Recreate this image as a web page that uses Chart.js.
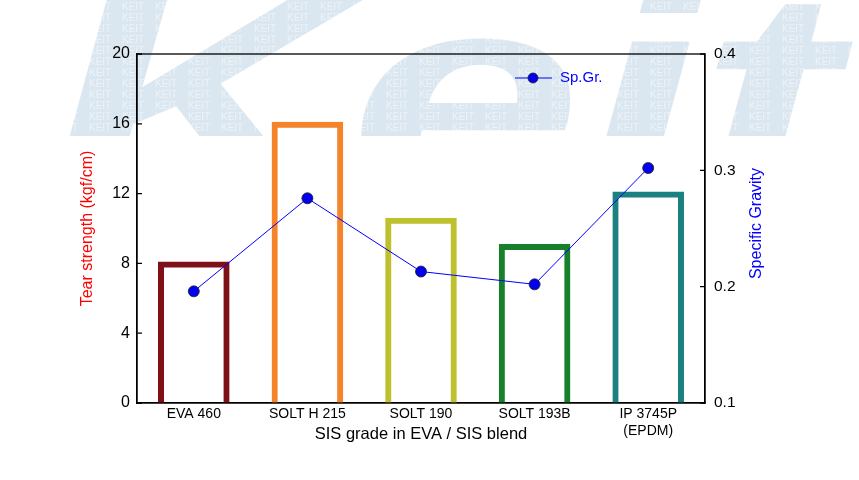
<!DOCTYPE html>
<html>
<head>
<meta charset="utf-8">
<script src="https://cdn.jsdelivr.net/npm/chart.js@4/dist/chart.umd.min.js"></script>
<style>
  body { margin: 0; background: #fff; }
  #graph { display: block; }
</style>
</head>
<body>
<canvas id="graph" width="859" height="480"></canvas>
<script>
// data
const categories = ['EVA 460', 'SOLT H 215', 'SOLT 190', 'SOLT 193B', ['IP 3745P', '(EPDM)']]
const tearStrength = [8, 16, 10.5, 9, 12]
const specificGravity = [0.196, 0.276, 0.213, 0.202, 0.302]
const barColors = ['#7f1018', '#f5832a', '#bfc02e', '#17802a', '#1a8080']

const FONT = 'Liberation Sans, Arial, sans-serif'

// pale "KEIT" watermark behind everything
const watermark = {
    id: 'watermark',
    beforeDraw(chart)
    {
        const ctx = chart.ctx
        ctx.save()
        ctx.fillStyle = '#ffffff'
        ctx.fillRect(0, 0, chart.width, chart.height)
        ctx.beginPath()
        ctx.rect(0, 0, chart.width, 136)
        ctx.clip()
        ctx.translate(45, 200)
        ctx.scale(1.4, 1)
        ctx.fillStyle = '#dbe7f0'
        ctx.font = 'italic bold 300px ' + FONT
        ctx.fillText('Keit', 0, 0)
        ctx.restore()

        // small repeated text inside the letters
        ctx.save()
        ctx.globalCompositeOperation = 'source-atop'
        ctx.fillStyle = 'rgba(255,255,255,0.5)'
        ctx.font = '10px ' + FONT
        for (let y = 10; y < 140; y += 11)
        {
            for (let x = -10; x < chart.width; x += 33)
            {
                ctx.fillText('KEIT', x, y)
            }
        }
        ctx.restore()
    }
}

// box frame, inward ticks, right title and the legend
const frame = {
    id: 'frame',
    afterDatasetsDraw(chart)
    {
        const ctx = chart.ctx
        const area = chart.chartArea
        const yL = chart.scales.y
        const yR = chart.scales.y1
        ctx.save()
        ctx.strokeStyle = '#000'
        ctx.lineWidth = 1.3
        ctx.strokeRect(area.left, area.top, area.right - area.left, area.bottom - area.top)
        ctx.beginPath()
        yL.ticks.forEach(t =>
        {
            const p = yL.getPixelForValue(t.value)
            ctx.moveTo(area.left, p)
            ctx.lineTo(area.left + 5, p)
        })
        yR.ticks.forEach(t =>
        {
            const p = yR.getPixelForValue(t.value)
            ctx.moveTo(area.right, p)
            ctx.lineTo(area.right - 5, p)
        })
        ctx.stroke()

        // right axis title, reading upwards
        ctx.save()
        ctx.translate(757, (area.top + area.bottom) / 2 - 5)
        ctx.rotate(-Math.PI / 2)
        ctx.fillStyle = '#0000ff'
        ctx.font = '16px ' + FONT
        ctx.textAlign = 'center'
        ctx.textBaseline = 'middle'
        ctx.fillText('Specific Gravity', 0, 0)
        ctx.restore()

        // legend
        const lx = 515
        const ly = 78
        ctx.strokeStyle = '#0000ff'
        ctx.lineWidth = 1
        ctx.beginPath()
        ctx.moveTo(lx, ly)
        ctx.lineTo(lx + 37, ly)
        ctx.stroke()
        ctx.beginPath()
        ctx.arc(lx + 18, ly, 5, 0, Math.PI * 2)
        ctx.fillStyle = '#0000ee'
        ctx.fill()
        ctx.strokeStyle = '#222'
        ctx.lineWidth = 0.8
        ctx.stroke()
        ctx.fillStyle = '#0000ff'
        ctx.font = '15px ' + FONT
        ctx.textBaseline = 'middle'
        ctx.fillText('Sp.Gr.', lx + 45, ly)
        ctx.restore()
    }
}

new Chart(document.querySelector('#graph'),
{
    data:
    {
        labels: categories,
        datasets:
        [
            {
                type: 'line',
                label: 'Sp.Gr.',
                data: specificGravity,
                yAxisID: 'y1',
                borderColor: '#0000ff',
                borderWidth: 1,
                pointRadius: 5.5,
                pointBackgroundColor: '#0000ee',
                pointBorderColor: '#222',
                pointBorderWidth: 0.8,
                tension: 0
            },
            {
                type: 'bar',
                label: 'Tear strength',
                data: tearStrength,
                yAxisID: 'y',
                backgroundColor: 'rgba(0,0,0,0)',
                borderColor: barColors,
                borderWidth: 2,
                borderSkipped: 'bottom',
                inflateAmount: 2,
                barPercentage: 0.595,
                categoryPercentage: 1
            }
        ]
    },
    options:
    {
        responsive: false,
        animation: false,
        layout: {padding: {top: 54, left: 0, right: 0, bottom: 0}},
        plugins:
        {
            legend: {display: false},
            tooltip: {enabled: false}
        },
        scales:
        {
            x:
            {
                grid: {display: false, drawTicks: false},
                border: {display: true, color: '#000', width: 1.3},
                ticks: {color: '#000', font: {family: FONT, size: 14}, padding: 3, maxRotation: 0, autoSkip: false},
                title:
                {
                    display: true,
                    text: 'SIS grade in EVA / SIS blend',
                    color: '#000',
                    font: {family: FONT, size: 16.5},
                    padding: {top: 0, bottom: 36}
                },
                afterFit(scale) { scale.height = 77 }
            },
            y:
            {
                position: 'left',
                min: 0,
                max: 20,
                grid: {display: false, drawTicks: false},
                border: {display: true, color: '#000', width: 1.3},
                ticks: {stepSize: 4, color: '#000', font: {family: FONT, size: 16}, padding: 7},
                title:
                {
                    display: true,
                    text: 'Tear strength (kgf/cm)',
                    color: '#ff0000',
                    font: {family: FONT, size: 16},
                    padding: {top: 78, bottom: 0}
                },
                afterFit(scale) { scale.width = 137 }
            },
            y1:
            {
                position: 'right',
                min: 0.1,
                max: 0.4,
                grid: {display: false, drawTicks: false},
                border: {display: true, color: '#000', width: 1.3},
                ticks: {stepSize: 0.1, color: '#000', font: {family: FONT, size: 15.5}, padding: 9,
                        callback: v => v.toFixed(1)},
                afterFit(scale) { scale.width = 154 }
            }
        }
    },
    plugins: [watermark, frame]
})
</script>
</body>
</html>
